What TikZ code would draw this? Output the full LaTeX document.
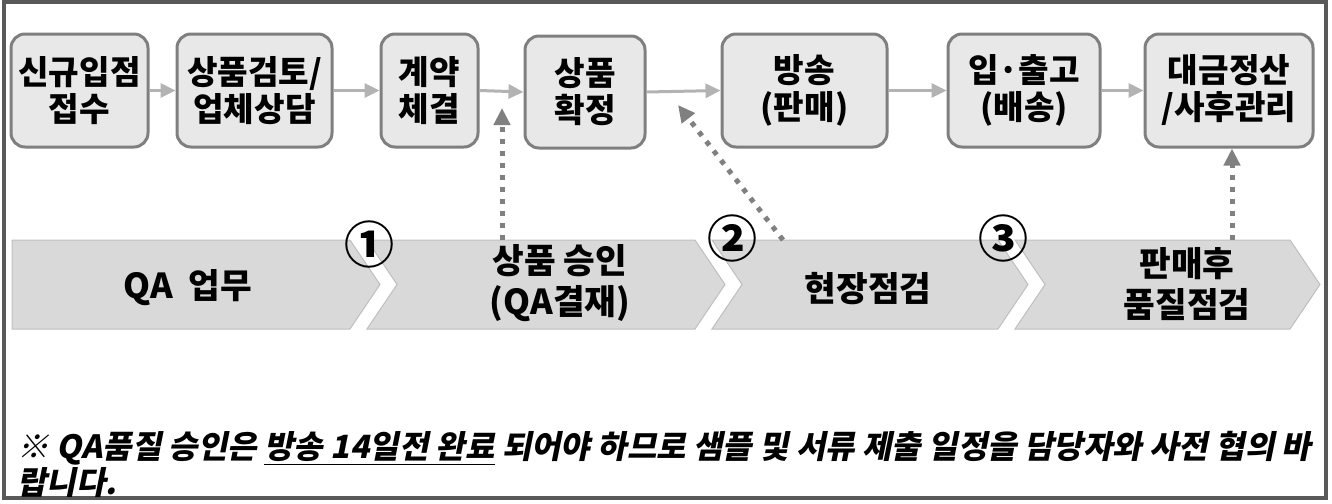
\documentclass[tikz,border=0pt]{standalone}
\usepackage{fontspec}
\setmainfont{Noto Sans CJK KR}
\newfontfamily\notefont[FakeSlant=0.2]{Noto Sans CJK KR}
\usetikzlibrary{arrows.meta}
\definecolor{boxfill}{HTML}{E8E8E8}
\definecolor{boxline}{HTML}{7F7F7F}
\definecolor{flowline}{HTML}{B3B3B3}
\definecolor{chevfill}{HTML}{D9D9D9}
\definecolor{chevline}{HTML}{BFBFBF}
\definecolor{dotline}{HTML}{808080}
\definecolor{frameline}{HTML}{595959}
\tikzstyle{stepbox}=[draw=boxline,fill=boxfill,line width=1.5pt,rounded corners=7pt,align=center,inner sep=0pt,font=\fontsize{16.6}{18.5}\selectfont\bfseries]
\tikzstyle{flow}=[draw=flowline,line width=1.5pt,-{Triangle[length=7.5pt,width=7pt]}]
\tikzstyle{chev}=[fill=chevfill,draw=chevline,line width=0.5pt]
\tikzstyle{chevtext}=[align=center,font=\fontsize{17.2}{20.5}\selectfont\bfseries]
\tikzstyle{qaarrow}=[draw=dotline,line width=2.5pt,dash pattern=on 2.5pt off 3.5pt,-{Triangle[length=8.5pt,width=8pt]}]
\tikzstyle{num}=[inner sep=0pt,font=\fontsize{25}{25}\selectfont\bfseries]

\begin{document}
\begin{tikzpicture}[x=0.5pt,y=-0.5pt]
\useasboundingbox (0,0) rectangle (1332,503);
\draw[frameline,line width=2pt] (4,2) rectangle (1326,498);
% QA chevrons
\draw[chev] (12,240) -- (350,240) -- (380,284.5) -- (350,329) -- (12,329) -- cycle;
\draw[chev] (367,240) -- (695,240) -- (725,284.5) -- (695,329) -- (367,329) -- (397,284.5) -- cycle;
\draw[chev] (712,240) -- (998,240) -- (1028,284.5) -- (998,329) -- (712,329) -- (742,284.5) -- cycle;
\draw[chev] (1015,240) -- (1290,240) -- (1320,284.5) -- (1290,329) -- (1015,329) -- (1045,284.5) -- cycle;
\node[chevtext] (QA) at (188,288) {QA~ 업무};
\node[chevtext] (Appr) at (560,283) {상품 승인\\(QA결재)};
\node[chevtext] (Site) at (868,289) {현장점검};
\node[chevtext] (After) at (1187,284) {판매후\\품질점검};
\node[num] (N1) at (369,244) {①};
\node[num] (N2) at (732,238) {②};
\node[num] (N3) at (1003,238) {③};
% process steps
\node[stepbox,minimum width=68.5pt,minimum height=56.5pt] (Recv) at (79.5,90.5) {신규입점\\접수};
\node[stepbox,minimum width=77.5pt,minimum height=56.5pt] (Review) at (254.5,90.5) {상품검토/\\업체상담};
\node[stepbox,minimum width=48.5pt,minimum height=56.5pt] (Contract) at (429.5,90.5) {계약\\체결};
\node[stepbox,minimum width=60pt,minimum height=56pt] (Confirm) at (585,92) {상품\\확정};
\node[stepbox,minimum width=82.5pt,minimum height=56.5pt] (Air) at (804.5,90.5) {방송\\(판매)};
\node[stepbox,minimum width=76pt,minimum height=56.5pt] (Ship) at (1024,90.5) {입·출고\\(배송)};
\node[stepbox,minimum width=84pt,minimum height=56.5pt] (Settle) at (1229,90.5) {대금정산\\/사후관리};
\draw[flow] (Recv.east) -- (Review.west);
\draw[flow] (Review.east) -- (Contract.west);
\draw[flow] (Contract.east) -- (Confirm.west);
\draw[flow] (Confirm.east) -- (Air.west);
\draw[flow] (Air.east) -- (Ship.west);
\draw[flow] (Ship.east) -- (Settle.west);
% QA checks into the flow
\coordinate (Chk1) at (502,240);
\coordinate (Tip1) at (502,108);
\coordinate (Chk2) at (783,240);
\coordinate (Tip2) at (678,105);
\coordinate (Chk3) at (1232,240);
\draw[qaarrow] (Chk1) -- (Tip1);
\draw[qaarrow] (Chk2) -- (Tip2);
\draw[qaarrow] (Chk3) -- (Chk3 |- Settle.south);
% note
\node[anchor=north west,align=left,inner sep=0pt,font=\notefont\bfseries\fontsize{16}{18}\selectfont] (Note) at (17,431)
  {※ QA품질 승인은 \smash{\underline{방송 14일전 완료}} 되어야 하므로 샘플 및 서류 제출 일정을 담당자와 사전 협의 바\\랍니다.};
\end{tikzpicture}
\end{document}
